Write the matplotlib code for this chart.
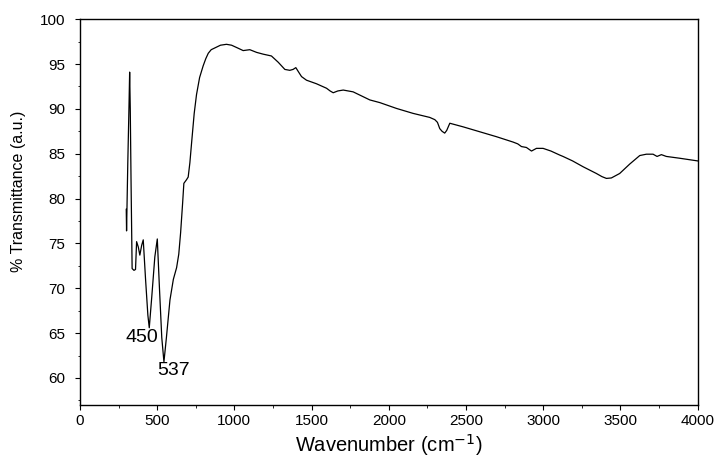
import numpy as np
import matplotlib as mpl
mpl.use("Agg")
import matplotlib.pyplot as plt
from matplotlib.ticker import MultipleLocator

plt.rcParams['font.family'] = ['Liberation Sans', 'DejaVu Sans']

# FTIR spectrum (wavenumber cm-1, % transmittance)
wavenumber = [300, 302, 310, 318, 322, 326, 331, 338, 350, 360, 367, 378, 388,
              400, 410, 425, 440, 449, 465, 485, 501, 515, 530, 544, 560, 583,
              605, 626, 640, 652, 665, 673, 690, 701, 712, 723, 740, 755, 775,
              798, 815, 831, 850, 874, 910, 949, 982, 1020, 1057, 1100, 1144,
              1187, 1240, 1284, 1327, 1359, 1380, 1398, 1420, 1435, 1467, 1532,
              1597, 1620, 1640, 1670, 1705, 1769, 1877, 1942, 2050, 2157, 2265,
              2298, 2315, 2330, 2345, 2362, 2375, 2395, 2481, 2589, 2697, 2805,
              2835, 2859, 2891, 2924, 2940, 2956, 2999, 3050, 3107, 3128, 3190,
              3258, 3344, 3380, 3409, 3441, 3495, 3560, 3625, 3668, 3711, 3737,
              3765, 3797, 3883, 4000]
transmittance = [78.8, 76.4, 84.0, 90.5, 94.1, 90.0, 82.0, 72.2, 72.0, 72.1,
                 75.2, 74.6, 73.7, 74.8, 75.4, 71.0, 67.0, 65.6, 69.0, 73.5,
                 75.5, 70.0, 64.5, 61.8, 64.5, 68.7, 71.0, 72.3, 73.8, 76.2,
                 79.5, 81.7, 82.1, 82.4, 84.0, 86.2, 89.5, 91.6, 93.5, 94.8,
                 95.6, 96.2, 96.6, 96.8, 97.1, 97.2, 97.1, 96.8, 96.5, 96.6,
                 96.3, 96.1, 95.9, 95.2, 94.4, 94.3, 94.4, 94.6, 94.0, 93.6,
                 93.2, 92.8, 92.3, 92.0, 91.8, 92.0, 92.1, 91.9, 91.0, 90.7,
                 90.05, 89.5, 89.05, 88.8, 88.5, 87.8, 87.5, 87.3, 87.6, 88.4,
                 88.0, 87.45, 86.9, 86.3, 86.1, 85.8, 85.7, 85.3, 85.45, 85.6,
                 85.6, 85.3, 84.85, 84.7, 84.2, 83.55, 82.8, 82.45, 82.25, 82.3,
                 82.8, 83.85, 84.8, 84.95, 84.95, 84.7, 84.9, 84.7, 84.5, 84.2]

peak_labels = ['450', '537']
peak_text_x = [399, 604]
peak_text_y = [64.05, 60.35]

fig = plt.figure(figsize=(7.2, 4.57), dpi=100)
ax = fig.add_axes([0.111, 0.114, 0.858, 0.844])

ax.plot(wavenumber, transmittance, color='k', lw=0.9)

# peak labels (baseline placed under the minima)
for lab, tx, ty in zip(peak_labels, peak_text_x, peak_text_y):
    ax.text(tx, ty, lab, fontsize=14, ha='center', va='baseline')

ax.set_xlim(0, 4000)
ax.set_ylim(57, 100)
ax.xaxis.set_major_locator(MultipleLocator(500))
ax.xaxis.set_minor_locator(MultipleLocator(250))
ax.yaxis.set_major_locator(MultipleLocator(5))
ax.yaxis.set_minor_locator(MultipleLocator(2.5))
ax.tick_params(which='major', direction='out', length=3.6, width=0.8, labelsize=11)
ax.tick_params(which='minor', direction='out', length=1.8, width=0.6)
ax.tick_params(axis='x', which='major', pad=3)
ax.tick_params(axis='y', which='major', pad=7)
for s in ax.spines.values():
    s.set_linewidth(1.0)

ax.set_xlabel('Wavenumber (cm$^{-1}$)', fontsize=14.5, va='baseline')
ax.xaxis.set_label_coords(0.5, -0.122)
ax.set_ylabel('% Transmittance (a.u.)', fontsize=11.5, va='center')
ax.yaxis.set_label_coords(-0.099, 0.553)

fig.savefig('out.png', dpi=100)
